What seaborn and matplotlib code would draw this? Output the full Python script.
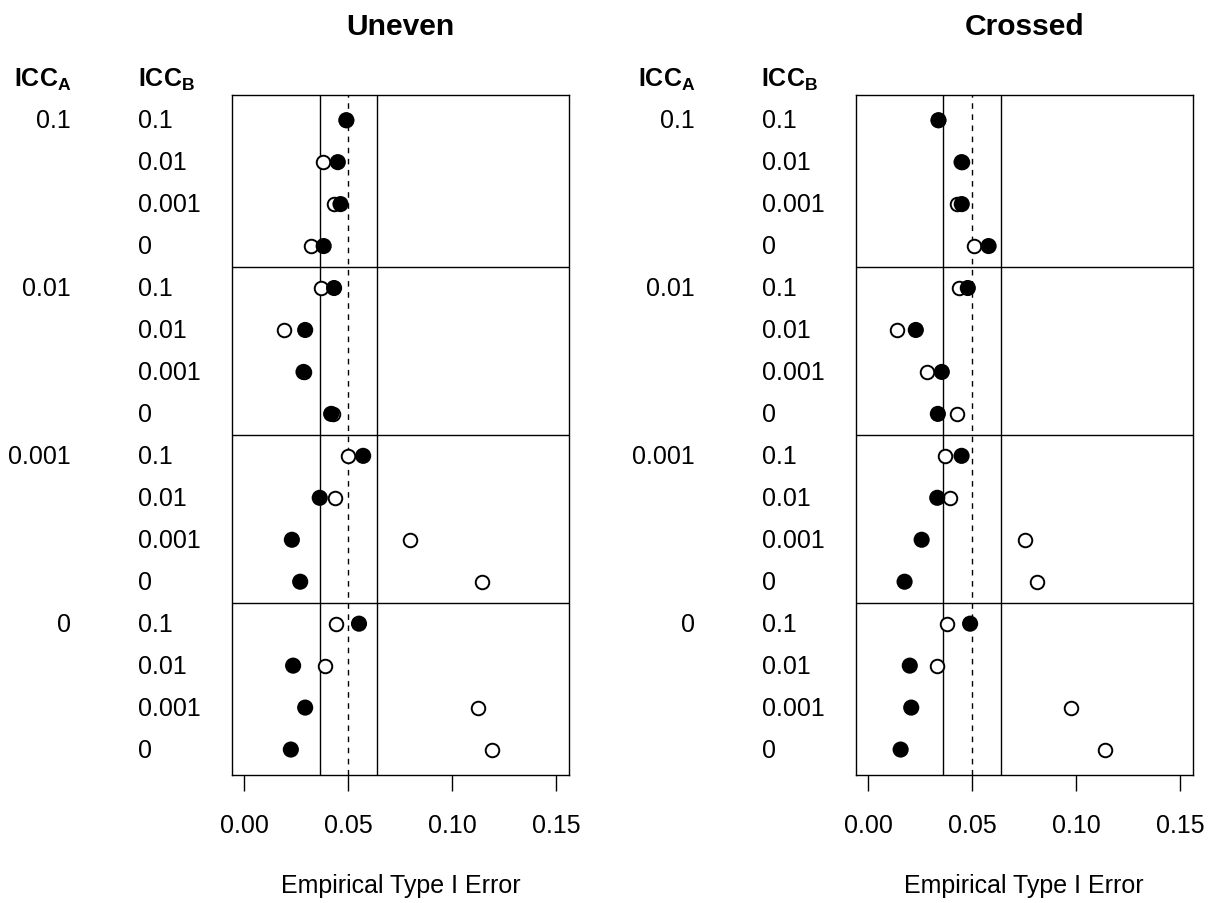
import pandas as pd
import matplotlib
matplotlib.use("Agg")
import matplotlib.pyplot as plt
import seaborn as sns
from matplotlib.ticker import FormatStrFormatter

# ICC levels (rows grouped by ICC_A, then ICC_B inside each group)
icc_a_levels = ["0.1", "0.01", "0.001", "0"]
icc_b_levels = ["0.1", "0.01", "0.001", "0"]

designs = ["Uneven", "Crossed"]

# empirical type I error rates (16 rows per design)
uneven_filled = [0.0490, 0.0449, 0.0462, 0.0381,
                 0.0431, 0.0292, 0.0284, 0.0417,
                 0.0571, 0.0362, 0.0228, 0.0268,
                 0.0551, 0.0234, 0.0292, 0.0223]
uneven_open = [0.0490, 0.0380, 0.0429, 0.0319,
               0.0369, 0.0192, 0.0284, 0.0426,
               0.0500, 0.0434, 0.0797, 0.1144,
               0.0441, 0.0386, 0.1125, 0.1189]
crossed_filled = [0.0338, 0.0449, 0.0450, 0.0579,
                  0.0479, 0.0229, 0.0354, 0.0335,
                  0.0449, 0.0332, 0.0257, 0.0175,
                  0.0490, 0.0200, 0.0207, 0.0156]
crossed_open = [0.0338, 0.0449, 0.0428, 0.0508,
                0.0439, 0.0140, 0.0282, 0.0426,
                0.0369, 0.0393, 0.0752, 0.0813,
                0.0378, 0.0330, 0.0975, 0.1138]

# nominal level and acceptance band
nominal = 0.05
band_low = 0.0361
band_high = 0.0639
x_ticks = [0.00, 0.05, 0.10, 0.15]

values = {
    ("Uneven", "open"): uneven_open,
    ("Uneven", "filled"): uneven_filled,
    ("Crossed", "open"): crossed_open,
    ("Crossed", "filled"): crossed_filled,
}

records = []
for (design, kind), vals in values.items():
    i = 0
    for a in icc_a_levels:
        for b in icc_b_levels:
            records.append({"design": design, "kind": kind, "icc_a": a,
                            "icc_b": b, "row": i + 1, "error": vals[i]})
            i += 1
df = pd.DataFrame(records)

sns.set_style("white")
plt.rcParams["font.family"] = ["Liberation Sans", "DejaVu Sans"]
plt.rcParams["mathtext.fontset"] = "custom"
plt.rcParams["mathtext.rm"] = "Liberation Sans"
plt.rcParams["mathtext.bf"] = "Liberation Sans:bold"
plt.rcParams["text.color"] = "black"
plt.rcParams["axes.labelcolor"] = "black"
plt.rcParams["xtick.color"] = "black"
plt.rcParams["axes.titlecolor"] = "black"

fig = plt.figure(figsize=(12.16, 9.04), dpi=100)
axes_pos = {"Uneven": [0.1908, 0.1419, 0.2769, 0.7519],
            "Crossed": [0.7037, 0.1419, 0.2771, 0.7519]}

n_rows = len(icc_a_levels) * len(icc_b_levels)

for design in designs:
    ax = fig.add_axes(axes_pos[design])
    sub = df[df["design"] == design]

    # reference lines
    ax.axvline(band_low, color="black", lw=1.0)
    ax.axvline(band_high, color="black", lw=1.0)
    ax.axvline(nominal, color="black", lw=1.0, ls=(0, (4, 4)))
    for k in range(1, len(icc_a_levels)):
        ax.axhline(k * len(icc_b_levels) + 0.5, color="black", lw=1.0)

    sns.scatterplot(data=sub[sub["kind"] == "open"], x="error", y="row",
                    ax=ax, marker="o", s=95, facecolor="white",
                    edgecolor="black", linewidth=1.4, zorder=3)
    sns.scatterplot(data=sub[sub["kind"] == "filled"], x="error", y="row",
                    ax=ax, marker="o", s=135, color="black",
                    edgecolor="none", linewidth=0, zorder=4)

    ax.set_xlim(-0.006, 0.156)
    ax.set_ylim(n_rows + 0.6, 0.4)
    ax.set_yticks([])
    ax.set_xticks(x_ticks)
    ax.xaxis.set_major_formatter(FormatStrFormatter("%.2f"))
    ax.tick_params(axis="x", bottom=True, length=11.5, width=1.0,
                   pad=16, labelsize=18, color="black", labelcolor="black")
    for sp in ax.spines.values():
        sp.set_color("black")
        sp.set_linewidth(1.0)
        sp.set_visible(True)

    ax.set_ylabel("")
    ax.set_xlabel("Empirical Type I Error", fontsize=18, color="black")
    ax.xaxis.set_label_coords(0.5, -0.145)
    ax.set_title(design, fontsize=21.6, fontweight="bold", pad=44,
                 color="black")

    # row labels on the left of the panel
    ytrans = ax.get_yaxis_transform()
    ax.annotate(r"$\mathbf{ICC}_\mathbf{A}$", xy=(0, 0.02), xycoords=ytrans,
                xytext=(-157, 0), textcoords="offset points", fontsize=18,
                ha="left", va="center", annotation_clip=False, color="black")
    ax.annotate(r"$\mathbf{ICC}_\mathbf{B}$", xy=(0, 0.02), xycoords=ytrans,
                xytext=(-68, 0), textcoords="offset points", fontsize=18,
                ha="left", va="center", annotation_clip=False, color="black")
    first = sub[sub["kind"] == "filled"]
    for _, r in first.iterrows():
        if r["icc_b"] == icc_b_levels[0]:
            ax.annotate(r["icc_a"], xy=(0, r["row"]), xycoords=ytrans,
                        xytext=(-116, 0), textcoords="offset points",
                        fontsize=18, ha="right", va="center",
                        annotation_clip=False, color="black")
        ax.annotate(r["icc_b"], xy=(0, r["row"]), xycoords=ytrans,
                    xytext=(-67.5, 0), textcoords="offset points",
                    fontsize=18, ha="left", va="center",
                    annotation_clip=False, color="black")
    if ax.get_legend() is not None:
        ax.get_legend().remove()

fig.savefig("out.png", dpi=100)
